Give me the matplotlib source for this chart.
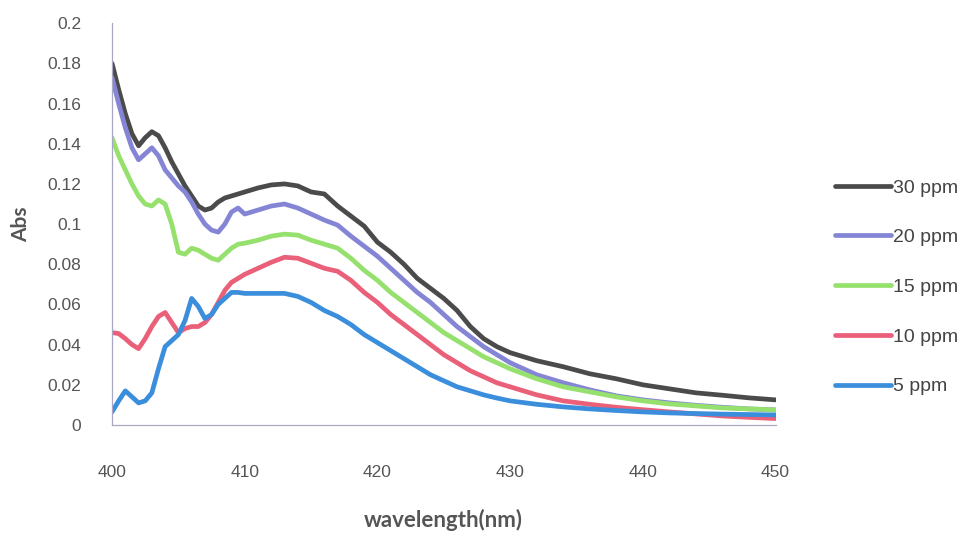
import matplotlib
matplotlib.use("Agg")
import matplotlib.pyplot as plt
from matplotlib.ticker import FuncFormatter

# Absorbance spectra at several concentrations
wavelength = [400, 400.5, 401, 401.5, 402, 402.5, 403, 403.5, 404, 404.5,
              405, 405.5, 406, 406.5, 407, 407.5, 408, 408.5, 409, 409.5,
              410, 411, 412, 413, 414, 415, 416, 417, 418, 419,
              420, 421, 422, 423, 424, 425, 426, 427, 428, 429,
              430, 432, 434, 436, 438, 440, 442, 444, 446, 448, 450]

abs_30 = [0.180, 0.167, 0.155, 0.145, 0.139, 0.143, 0.146, 0.144, 0.138, 0.131,
          0.125, 0.119, 0.114, 0.109, 0.107, 0.108, 0.111, 0.113, 0.114, 0.115,
          0.116, 0.118, 0.1195, 0.120, 0.119, 0.116, 0.115, 0.109, 0.104, 0.099,
          0.091, 0.086, 0.080, 0.073, 0.068, 0.063, 0.057, 0.049, 0.043, 0.039,
          0.036, 0.032, 0.029, 0.0255, 0.023, 0.020, 0.018, 0.016, 0.0148, 0.0135, 0.0125]

abs_20 = [0.173, 0.160, 0.148, 0.138, 0.132, 0.135, 0.138, 0.134, 0.127, 0.123,
          0.119, 0.116, 0.111, 0.105, 0.100, 0.097, 0.096, 0.100, 0.106, 0.108,
          0.105, 0.107, 0.109, 0.110, 0.108, 0.105, 0.102, 0.0995, 0.094, 0.089,
          0.084, 0.078, 0.072, 0.066, 0.061, 0.055, 0.049, 0.044, 0.039, 0.035,
          0.031, 0.025, 0.021, 0.0175, 0.0145, 0.0125, 0.011, 0.0098, 0.0088, 0.008, 0.0075]

abs_15 = [0.143, 0.134, 0.127, 0.120, 0.114, 0.110, 0.109, 0.112, 0.110, 0.100,
          0.086, 0.085, 0.088, 0.087, 0.085, 0.083, 0.082, 0.085, 0.088, 0.090,
          0.0905, 0.092, 0.094, 0.095, 0.0945, 0.092, 0.090, 0.088, 0.083, 0.077,
          0.072, 0.066, 0.061, 0.056, 0.051, 0.046, 0.042, 0.038, 0.034, 0.031,
          0.028, 0.023, 0.019, 0.0165, 0.014, 0.012, 0.0105, 0.0095, 0.0085, 0.008, 0.0075]

abs_10 = [0.046, 0.0455, 0.043, 0.040, 0.038, 0.043, 0.049, 0.054, 0.056, 0.051,
          0.046, 0.048, 0.049, 0.049, 0.051, 0.055, 0.061, 0.067, 0.071, 0.073,
          0.075, 0.078, 0.081, 0.0835, 0.083, 0.0805, 0.078, 0.0765, 0.072, 0.066,
          0.061, 0.055, 0.050, 0.045, 0.040, 0.035, 0.031, 0.027, 0.024, 0.021,
          0.019, 0.015, 0.012, 0.0103, 0.0088, 0.0076, 0.0065, 0.0055, 0.0045, 0.0038, 0.0032]

abs_5 = [0.0065, 0.012, 0.017, 0.014, 0.011, 0.012, 0.016, 0.028, 0.039, 0.042,
         0.045, 0.052, 0.063, 0.059, 0.053, 0.055, 0.060, 0.063, 0.066, 0.066,
         0.0655, 0.0655, 0.0655, 0.0655, 0.064, 0.061, 0.057, 0.054, 0.050, 0.045,
         0.041, 0.037, 0.033, 0.029, 0.025, 0.022, 0.019, 0.017, 0.015, 0.0134,
         0.012, 0.0103, 0.009, 0.008, 0.0072, 0.0065, 0.006, 0.0057, 0.0054, 0.0052, 0.005]

series_labels = ["30 ppm", "20 ppm", "15 ppm", "10 ppm", "5 ppm"]
series_colors = ["#4b4b4b", "#8585d6", "#96e06e", "#ea6079", "#3b8edb"]
x_ticks = [400, 410, 420, 430, 440, 450]
y_ticks = [0, 0.02, 0.04, 0.06, 0.08, 0.1, 0.12, 0.14, 0.16, 0.18, 0.2]

fig = plt.figure(figsize=(9.7, 5.4), dpi=100)
ax = fig.add_axes([0.1155, 0.213, 0.684, 0.744])

for values, label, color in zip([abs_30, abs_20, abs_15, abs_10, abs_5],
                                series_labels, series_colors):
    ax.plot(wavelength, values, color=color, lw=3.4, label=label,
            solid_joinstyle="round", solid_capstyle="round")

ax.set_xlim(400, 450)
ax.set_ylim(0, 0.2)
ax.set_xticks(x_ticks)
ax.set_yticks(y_ticks)
ax.yaxis.set_major_formatter(FuncFormatter(lambda v, p: "%g" % round(v, 2)))

for lbl in ax.get_xticklabels() + ax.get_yticklabels():
    lbl.set_fontfamily("Liberation Sans")
    lbl.set_fontsize(12.5)
    lbl.set_color("#555555")
ax.tick_params(axis="both", length=0)
ax.tick_params(axis="y", pad=22)
ax.tick_params(axis="x", pad=29)

for side in ("top", "right"):
    ax.spines[side].set_visible(False)
for side in ("left", "bottom"):
    ax.spines[side].set_color("#a8a8c4")
    ax.spines[side].set_linewidth(0.9)

ax.set_ylabel("Abs", fontfamily="Lato", fontweight="bold", fontsize=15,
              color="#555555", labelpad=12)
ax.set_xlabel("wavelength(nm)", fontfamily="Lato", fontweight="bold",
              fontsize=16, color="#555555", labelpad=21)

leg = ax.legend(loc="center left", bbox_to_anchor=(1.09, 0.343), frameon=False,
                borderpad=0, borderaxespad=0,
                handlelength=2.85, handletextpad=0.1, labelspacing=1.65,
                prop={"family": "Liberation Sans", "size": 14})
for t in leg.get_texts():
    t.set_color("#444444")

fig.savefig("out.png", dpi=100, facecolor="white")
